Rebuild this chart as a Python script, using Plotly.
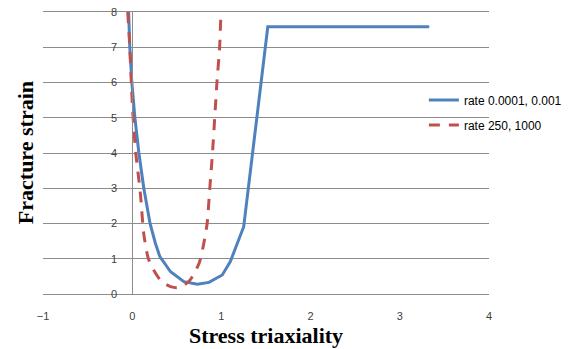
import plotly.graph_objects as go

# Data
blue_name = "rate 0.0001, 0.001"
blue_x = [-0.04, -0.027, -0.004, 0.03, 0.075, 0.13, 0.2, 0.26, 0.31, 0.43, 0.58, 0.73, 0.86, 1.01, 1.1, 1.25, 1.52, 3.33]
blue_y = [8.0, 7.0, 6.0, 5.0, 4.0, 3.0, 2.0, 1.44, 1.06, 0.63, 0.35, 0.28, 0.33, 0.54, 0.92, 1.91, 7.58, 7.58]

red_name = "rate 250, 1000"
red_x = [-0.05, -0.027, -0.01, 0.01, 0.04, 0.09, 0.13, 0.18, 0.24, 0.33, 0.43, 0.5, 0.56, 0.65, 0.75, 0.80, 0.84, 0.87, 0.90, 0.925, 0.95, 0.98, 0.995]
red_y = [8.0, 7.0, 6.0, 5.0, 4.0, 2.9, 1.7, 1.01, 0.68, 0.35, 0.21, 0.18, 0.21, 0.40, 0.87, 1.4, 2.0, 3.0, 4.0, 5.0, 6.0, 7.0, 8.0]

x_ticks = [-1, 0, 1, 2, 3, 4]
y_ticks = [0, 1, 2, 3, 4, 5, 6, 7, 8]

fig = go.Figure()
fig.add_trace(go.Scatter(x=blue_x, y=blue_y, mode="lines", name=blue_name, showlegend=True,
                         line=dict(color="#4F81BD", width=3), legend="legend"))
fig.add_trace(go.Scatter(x=red_x, y=red_y, mode="lines", name=red_name, showlegend=True,
                         line=dict(color="#C0504D", width=3, dash="11px,9px", shape="spline", smoothing=0.6),
                         legend="legend2"))

tick_font = dict(family="Liberation Sans, Arial, sans-serif", size=11, color="#404040")
leg_font = dict(family="Liberation Sans, Arial, sans-serif", size=12, color="black")

fig.update_layout(
    width=580, height=349,
    showlegend=True,
    margin=dict(l=43, r=91, t=12, b=55, autoexpand=False),
    paper_bgcolor="white", plot_bgcolor="white",
    xaxis=dict(range=[-1, 4], tickvals=x_ticks, showgrid=False, zeroline=False, automargin=False,
               showline=True, mirror=True, linecolor="#8C8C8C", linewidth=1,
               tickfont=tick_font, ticks="", ticklabelstandoff=12,
               title=dict(text="Stress triaxiality", standoff=6,
                          font=dict(family="Liberation Serif, Times New Roman, serif", size=22, color="black", weight="bold"))),
    yaxis=dict(range=[0, 8], tickvals=y_ticks, showgrid=True, gridcolor="#8C8C8C", gridwidth=1,
               zeroline=False, showline=True, linecolor="#8C8C8C", linewidth=1, automargin=False,
               anchor="free", position=0.2, tickfont=tick_font, ticks="", ticklabelstandoff=13),
    legend=dict(x=0.854, y=(294 - 100) / 282, xanchor="left", yanchor="middle",
                bgcolor="rgba(0,0,0,0)", font=leg_font),
    legend2=dict(x=0.854, y=(294 - 125) / 282, xanchor="left", yanchor="middle",
                 bgcolor="rgba(0,0,0,0)", font=leg_font),
    annotations=[dict(text="<b>Fracture strain</b>", xref="paper", yref="paper",
                      x=-0.04, y=0.5, xanchor="center", yanchor="middle", textangle=-90, showarrow=False,
                      font=dict(family="Liberation Serif, Times New Roman, serif", size=22, color="black"))],
)

fig.write_html("out.html")
